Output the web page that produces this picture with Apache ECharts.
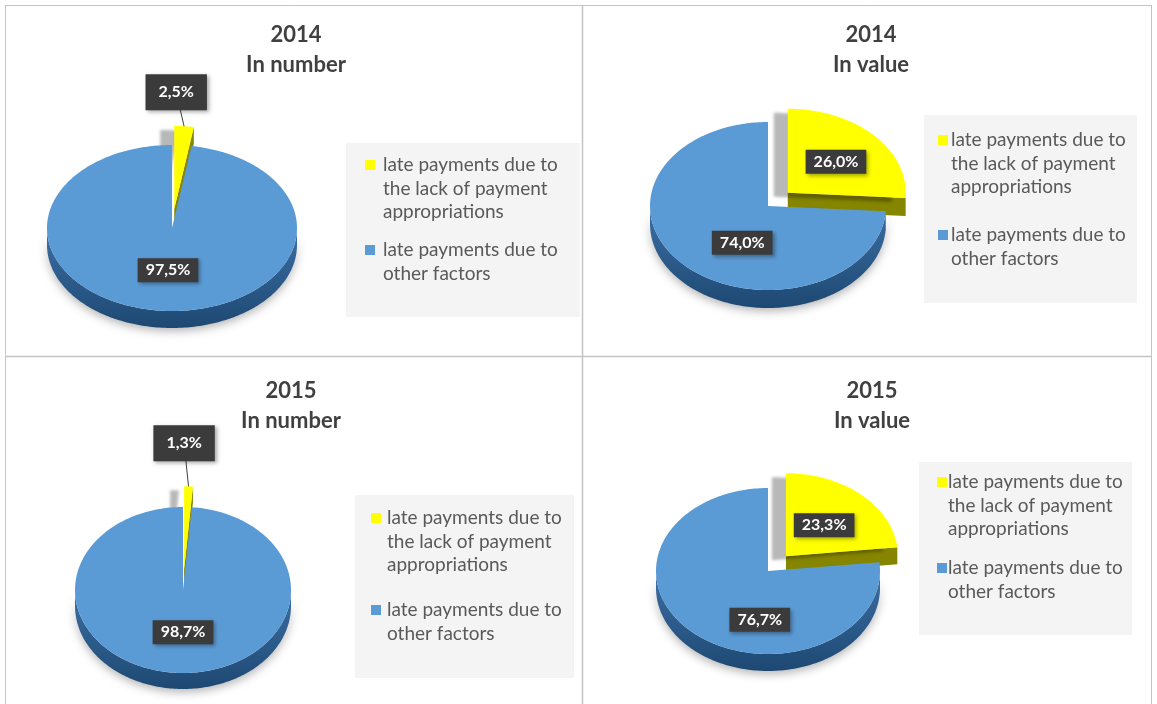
<!DOCTYPE html>
<html>
<head>
<meta charset="utf-8">
<title>Late payments 2014-2015</title>
<script src="https://cdn.jsdelivr.net/npm/echarts@6/dist/echarts.min.js"></script>
<style>
  html, body { margin: 0; padding: 0; background: #fff; }
  #chart { width: 1157px; height: 704px; }
</style>
</head>
<body>
<div id="chart"></div>
<script>
const categories = [
  'late payments due to the lack of payment appropriations',
  'late payments due to other factors'
];
const years = ['2014', '2014', '2015', '2015'];
const measures = ['In number', 'In value', 'In number', 'In value'];
const number2014 = [2.5, 97.5];
const value2014 = [26.0, 74.0];
const number2015 = [1.3, 98.7];
const value2015 = [23.3, 76.7];
const panelValues = [number2014, value2014, number2015, value2015];

const colors = ['#ffff00', '#5b9bd5'];
const rimColors = [['#9c9c00', '#676700'], ['#3d70a6', '#1d4872']];
const cutColors = ['#858500', '#2f6093'];

// pie geometry per panel, in px
const pies = [
  { cx: 172, cy: 228, rx: 125, ry: 83, depth: 17, explode: 0.23, labelK: [[0.2, 1.41], [0.41, 0.51]] },
  { cx: 768, cy: 206, rx: 118, ry: 84, depth: 18, explode: 0.23, labelK: [[0.56, 0.54], [0.3, 0.64]] },
  { cx: 183, cy: 590, rx: 108, ry: 83, depth: 16, explode: 0.25, labelK: [[0, 1.52], [0, 0.51]] },
  { cx: 768, cy: 571, rx: 112, ry: 83, depth: 17, explode: 0.24, labelK: [[0.51, 0.5], [0.11, 0.79]] }
];
const titlePos = [[296, 20], [871, 20], [291, 376], [872, 376]];
const legendBoxes = [
  { x: 346, y: 143, w: 234, h: 174, ix: 365, tx: 383, rows: [165, 250] },
  { x: 924, y: 115, w: 213, h: 188, ix: 938, tx: 951, rows: [140, 235] },
  { x: 355, y: 495, w: 219, h: 183, ix: 371, tx: 387, rows: [518, 610] },
  { x: 919, y: 462, w: 213, h: 173, ix: 937, tx: 948, rows: [482, 568] }
];

const chart = echarts.init(document.getElementById('chart'));

function arcPoint(p, a, ox, oy, dy) {
  return [p.cx + ox + p.rx * Math.sin(a), p.cy + oy + dy - p.ry * Math.cos(a)];
}

function makeRenderItem(k) {
  const p = pies[k];
  const vals = panelValues[k];
  const total = vals.reduce((s, v) => s + v, 0);
  return function (params, api) {
    const i = params.dataIndex;
    const v = api.value(0);
    let before = 0;
    for (let j = 0; j < i; j++) before += vals[j];
    const a0 = before / total * Math.PI * 2;
    const a1 = (before + v) / total * Math.PI * 2;
    const mid = (a0 + a1) / 2;
    const e = i === 0 ? p.explode : 0;
    const ox = Math.sin(mid) * p.rx * e;
    const oy = -Math.cos(mid) * p.ry * e;
    const c = [p.cx + ox, p.cy + oy];
    const children = [];

    const face = [c];
    const n = Math.max(2, Math.ceil((a1 - a0) / 0.02));
    for (let s = 0; s <= n; s++) face.push(arcPoint(p, a0 + (a1 - a0) * s / n, ox, oy, 0));

    // front part of the rim
    const w0 = Math.max(a0, Math.PI / 2), w1 = Math.min(a1, Math.PI * 1.5);
    if (w1 > w0) {
      const up = [], down = [];
      const m = Math.max(2, Math.ceil((w1 - w0) / 0.02));
      for (let s = 0; s <= m; s++) {
        const a = w0 + (w1 - w0) * s / m;
        up.push(arcPoint(p, a, ox, oy, 0));
        down.unshift(arcPoint(p, a, ox, oy, p.depth));
      }
      children.push({
        type: 'polygon', z2: 1,
        shape: { points: up.concat(down) },
        style: {
          fill: new echarts.graphic.LinearGradient(0, 0, 0, 1, [
            { offset: 0, color: rimColors[i][0] }, { offset: 1, color: rimColors[i][1] }
          ]),
          shadowBlur: 10, shadowColor: 'rgba(0,0,0,0.3)', shadowOffsetY: 3
        }
      });
    }
    // cut faces turned towards the viewer
    [[a0, a0 - Math.PI / 2], [a1, a1 + Math.PI / 2]].forEach(function (f) {
      if (Math.cos(f[1]) < -0.01) {
        const q = arcPoint(p, f[0], ox, oy, 0);
        children.push({
          type: 'polygon', z2: 2,
          shape: { points: [c, q, [q[0], q[1] + p.depth], [c[0], c[1] + p.depth]] },
          style: { fill: cutColors[i] }
        });
      }
    });
    children.push({
      type: 'polygon', z2: 10,
      shape: { points: face },
      style: e > 0
        ? { fill: colors[i], shadowBlur: 3, shadowColor: 'rgba(0,0,0,0.28)', shadowOffsetX: -14, shadowOffsetY: 4 }
        : { fill: colors[i] }
    });

    const lk = p.labelK[i];
    const lx = c[0] + Math.sin(mid) * p.rx * lk[0];
    const ly = c[1] - Math.cos(mid) * p.ry * lk[1];
    const outside = lk[1] > 1;
    if (outside) {
      const tip = arcPoint(p, mid, ox, oy, 0);
      children.push({
        type: 'line', z2: 15,
        shape: { x1: tip[0], y1: tip[1], x2: lx, y2: ly },
        style: { stroke: '#404040', lineWidth: 1 }
      });
    }
    children.push({
      type: 'text', z2: 20,
      style: {
        text: v.toFixed(1).replace('.', ',') + '%',
        x: lx, y: ly, align: 'center', verticalAlign: 'middle',
        fill: '#ffffff', font: 'bold 16px Lato',
        backgroundColor: '#3b3b3b', padding: outside ? [10, 13] : [4, 8],
        shadowBlur: 4, shadowColor: 'rgba(0,0,0,0.35)', shadowOffsetX: 2, shadowOffsetY: 2
      }
    });
    return { type: 'group', children: children };
  };
}

const graphics = [
  { type: 'line', shape: { x1: 5, y1: 5.5, x2: 1152, y2: 5.5 }, style: { stroke: '#c4c4c4', lineWidth: 1 } },
  { type: 'line', shape: { x1: 5.5, y1: 5, x2: 5.5, y2: 704 }, style: { stroke: '#c4c4c4', lineWidth: 1 } },
  { type: 'line', shape: { x1: 1151.5, y1: 5, x2: 1151.5, y2: 704 }, style: { stroke: '#c4c4c4', lineWidth: 1 } },
  { type: 'line', shape: { x1: 582.5, y1: 5, x2: 582.5, y2: 704 }, style: { stroke: '#c4c4c4', lineWidth: 1.5 } },
  { type: 'line', shape: { x1: 5, y1: 356.5, x2: 1152, y2: 356.5 }, style: { stroke: '#c4c4c4', lineWidth: 1.5 } }
];
legendBoxes.forEach(function (b) {
  graphics.push({ type: 'rect', shape: { x: b.x, y: b.y, width: b.w, height: b.h }, style: { fill: '#f4f4f4' } });
  categories.forEach(function (name, i) {
    graphics.push({ type: 'rect', shape: { x: b.ix, y: b.rows[i] - 5, width: 10, height: 10 }, style: { fill: colors[i] } });
    graphics.push({
      type: 'text',
      style: {
        text: name, x: b.tx, y: b.rows[i] - 11.75, width: 196, overflow: 'break',
        lineHeight: 23.5, verticalAlign: 'top', fill: '#595959', font: '19px Lato'
      }
    });
  });
});

chart.setOption({
  animation: false,
  backgroundColor: '#ffffff',
  title: titlePos.map(function (pos, k) {
    return {
      text: years[k] + '\n' + measures[k],
      left: pos[0], top: pos[1], textAlign: 'center', padding: 0,
      textStyle: { fontFamily: 'Lato', fontSize: 22, fontWeight: 'bold', color: '#404040', lineHeight: 30 }
    };
  }),
  graphic: graphics,
  series: panelValues.map(function (vals, k) {
    return {
      type: 'custom',
      name: years[k] + ' ' + measures[k],
      coordinateSystem: 'none',
      renderItem: makeRenderItem(k),
      data: vals
    };
  })
});
</script>
</body>
</html>
